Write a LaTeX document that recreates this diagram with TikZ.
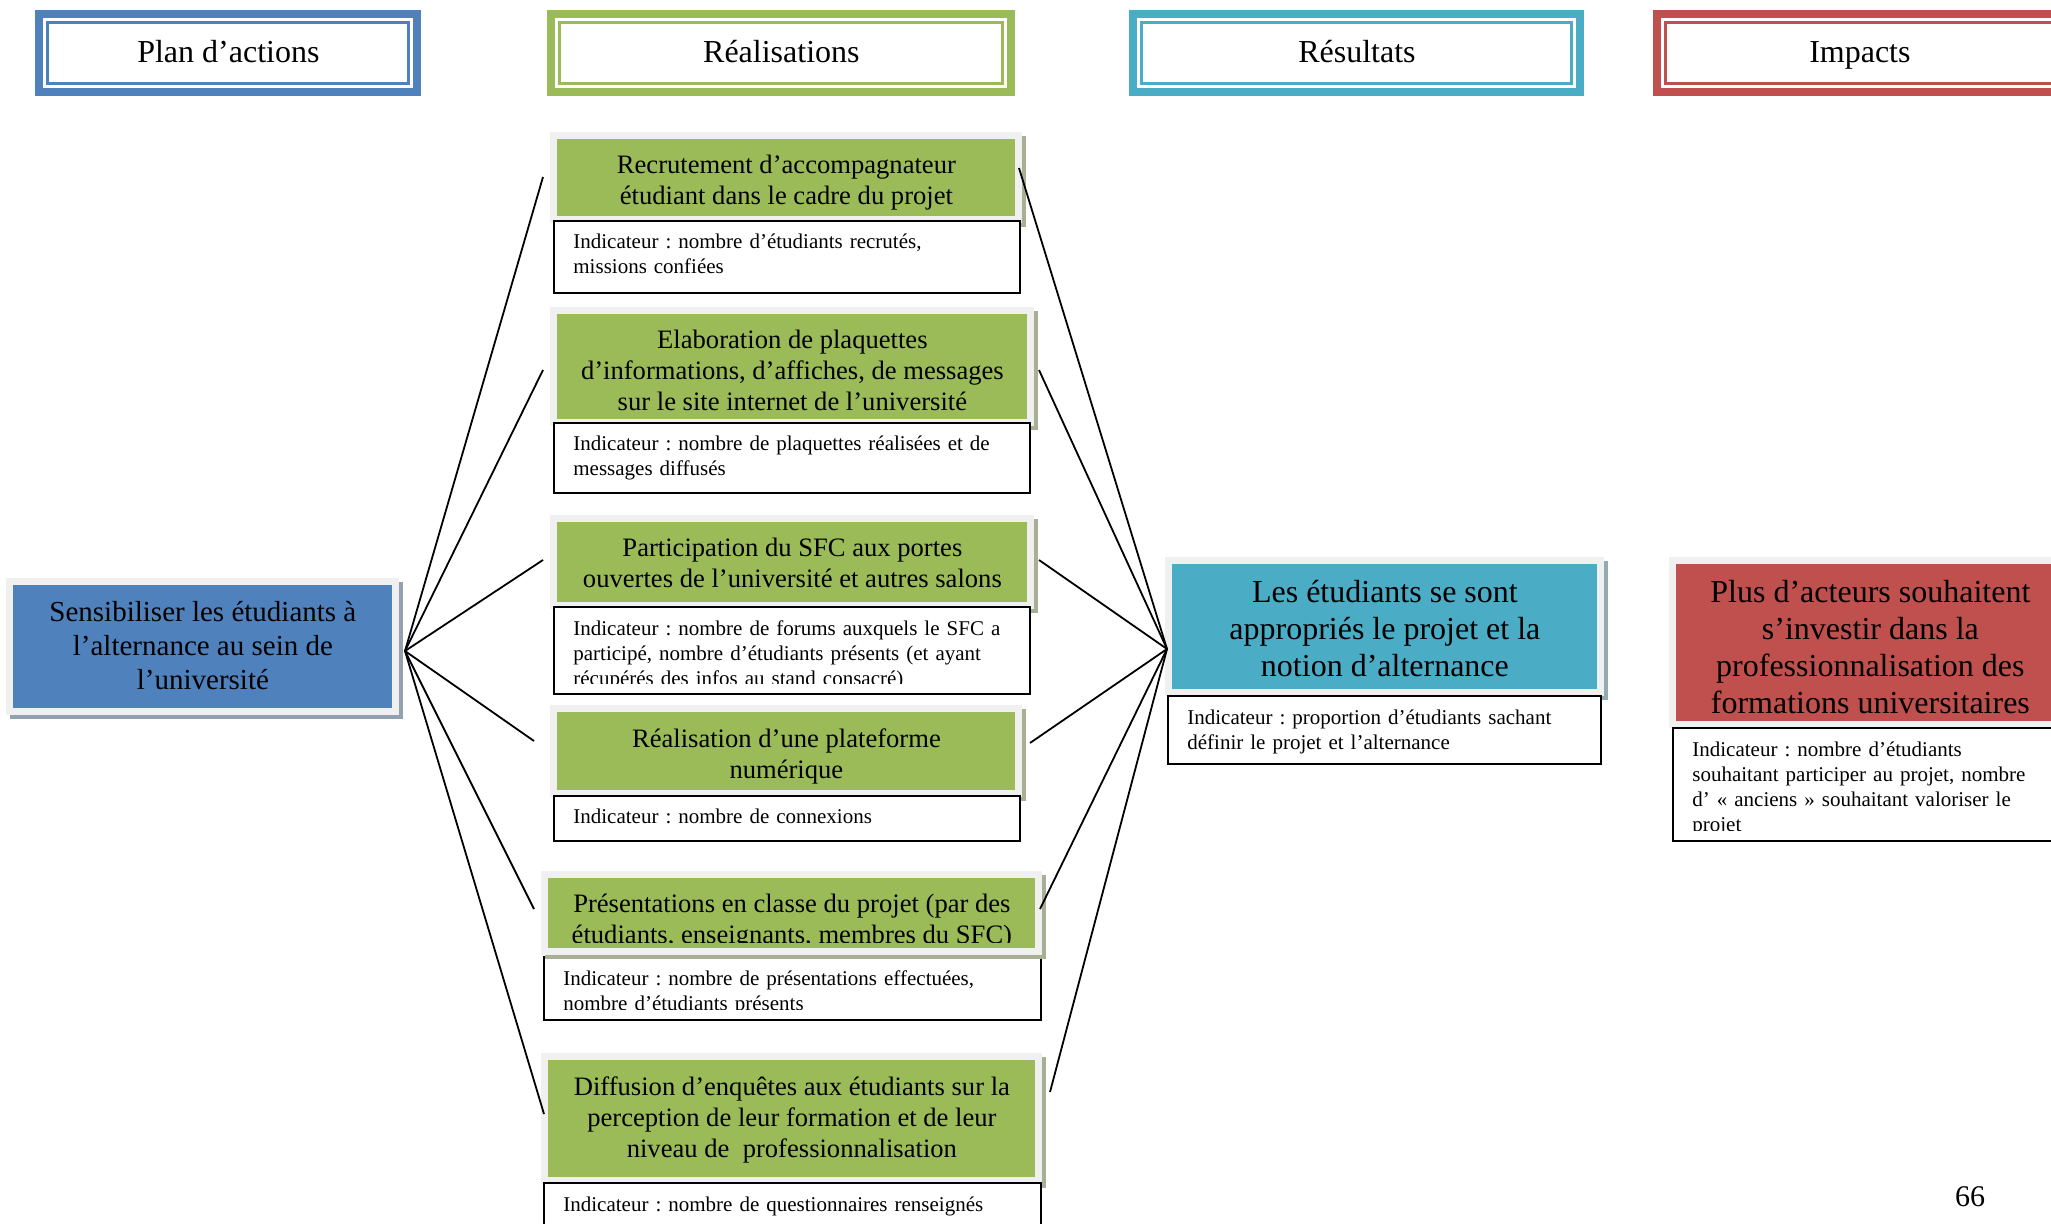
\documentclass[tikz,border=0pt]{standalone}
\usepackage{fontspec}
\setmainfont{Liberation Serif}
\usetikzlibrary{calc}
\definecolor{cblue}{HTML}{4F81BD}
\definecolor{cgreen}{HTML}{9BBB59}
\definecolor{cteal}{HTML}{4BACC6}
\definecolor{cred}{HTML}{C0504D}
\definecolor{framegray}{HTML}{F0F0F0}
\frenchspacing

\tikzset{
  hdr/.style={fill=#1, inner sep=0pt, text depth=0pt, text height=9.5pt, font=\fontsize{16}{19}\selectfont,
    path picture={
      \fill[white] ([shift={(4pt,-4pt)}]path picture bounding box.north west) rectangle ([shift={(-4pt,4pt)}]path picture bounding box.south east);
      \draw[#1, line width=1.5pt] ([shift={(6.25pt,-6.25pt)}]path picture bounding box.north west) rectangle ([shift={(-6.25pt,6.25pt)}]path picture bounding box.south east);
    }},
  shbox/.style={fill=#1, inner sep=0pt,
    preaction={draw=#1!35!gray!75!white, line width=7pt, transform canvas={shift={(2pt,-2pt)}}},
    preaction={draw=framegray, line width=7pt}},
  gtext/.style={font=\fontsize{13.3}{15.5}\selectfont},
  btext/.style={font=\fontsize{14.5}{17}\selectfont},
  ltext/.style={font=\fontsize{16}{18.5}\selectfont},
  indframe/.style={draw=black, line width=0.9pt, fill=white, inner sep=0pt},
  indtext/.style={font=\fontsize{10.5}{12.5}\selectfont, align=left, inner sep=0pt},
  link/.style={draw=black, line width=0.9pt},
}

% header box: name, x1, y1, x2, y2, colour, text
\newcommand\hdrbox[7]{%
  \pgfmathsetlengthmacro\bw{(#4-#2)*0.5pt}%
  \pgfmathsetlengthmacro\bh{(#5-#3)*0.5pt}%
  \node[hdr=#6, minimum width=\bw, minimum height=\bh, anchor=north west] (#1) at (#2,#3) {#7};}

% coloured box: name, x1, y1, x2, y2, box style, text style, text
\newcommand\colbox[8]{%
  \pgfmathsetlengthmacro\bw{(#4-#2)*0.5pt}%
  \pgfmathsetlengthmacro\bh{(#5-#3)*0.5pt}%
  \node[#6, minimum width=\bw, minimum height=\bh, anchor=north west] (#1) at (#2,#3) {};
  \begin{scope}
    \clip ([yshift=-0.5pt]#1.north west) rectangle ([yshift=3pt]#1.south east);
    \node[#7, anchor=north, inner sep=0pt, align=center] (#1t) at ([yshift=-8pt]#1.north) {#8};
  \end{scope}}

% indicator box: name, x1, y1, x2, y2, text
\newcommand\indbox[6]{%
  \pgfmathsetlengthmacro\bw{(#4-#2)*0.5pt}%
  \pgfmathsetlengthmacro\bh{(#5-#3)*0.5pt}%
  \node[indframe, minimum width=\bw, minimum height=\bh, anchor=north west] (#1) at (#2,#3) {};
  \begin{scope}
    \clip ([shift={(1pt,-1pt)}]#1.north west) rectangle ([shift={(-1pt,5.5pt)}]#1.south east);
    \node[indtext, text width=\bw, anchor=north west] (#1t) at ([shift={(10pt,-7pt)}]#1.north west) {#6};
  \end{scope}}

\begin{document}
\begin{tikzpicture}[x=0.5pt, y=-0.5pt]
\clip (0,0) rectangle (2051,1224);
\fill[white] (0,0) rectangle (2051,1224);

% headers
\hdrbox{h1}{35}{10}{421}{96}{cblue}{Plan d’actions}
\hdrbox{h2}{547}{10}{1015}{96}{cgreen}{Réalisations}
\hdrbox{h3}{1129}{10}{1584}{96}{cteal}{Résultats}
\hdrbox{h4}{1653}{10}{2066}{96}{cred}{Impacts}

% plan
\colbox{plan}{13}{585}{392}{708}{shbox=cblue}{btext}{Sensibiliser les étudiants à\\ l’alternance au sein de\\ l’université}

% realisations
\colbox{g1}{557}{139}{1015}{216}{shbox=cgreen}{gtext}{Recrutement d’accompagnateur\\ étudiant dans le cadre du projet}
\indbox{i1}{553}{220}{1019}{292}{Indicateur : nombre d’étudiants recrutés,\\ missions confiées}

\colbox{g2}{557}{314}{1027}{419}{shbox=cgreen}{gtext}{Elaboration de plaquettes\\ d’informations, d’affiches, de messages\\ sur le site internet de l’université}
\indbox{i2}{553}{422}{1029}{492}{Indicateur : nombre de plaquettes réalisées et de\\ messages diffusés}

\colbox{g3}{557}{522}{1027}{602}{shbox=cgreen}{gtext}{Participation du SFC aux portes\\ ouvertes de l’université et autres salons}
\indbox{i3}{553}{606}{1029}{693}{Indicateur : nombre de forums auxquels le SFC a\\ participé, nombre d’étudiants présents (et ayant\\ récupérés des infos au stand consacré)}

\colbox{g4}{557}{712}{1015}{790}{shbox=cgreen}{gtext}{Réalisation d’une plateforme\\ numérique}
\indbox{i4}{553}{795}{1019}{840}{Indicateur : nombre de connexions}

\indbox{i5}{543}{956}{1040}{1019}{Indicateur : nombre de présentations effectuées,\\ nombre d’étudiants présents}
\colbox{g5}{548}{878}{1035}{948}{shbox=cgreen}{gtext}{Présentations en classe du projet (par des\\ étudiants, enseignants, membres du SFC)}

\colbox{g6}{548}{1060}{1035}{1177}{shbox=cgreen}{gtext}{Diffusion d’enquêtes aux étudiants sur la\\ perception de leur formation et de leur\\ niveau de~ professionnalisation}
\indbox{i6}{543}{1182}{1040}{1240}{Indicateur : nombre de questionnaires renseignés}

% resultats
\colbox{res}{1172}{564}{1597}{689}{shbox=cteal}{ltext}{Les étudiants se sont\\ appropriés le projet et la\\ notion d’alternance}
\indbox{ires}{1167}{695}{1600}{763}{Indicateur : proportion d’étudiants sachant\\ définir le projet et l’alternance}

% impacts
\colbox{imp}{1676}{564}{2064}{721}{shbox=cred}{ltext}{Plus d’acteurs souhaitent\\ s’investir dans la\\ professionnalisation des\\ formations universitaires}
\indbox{iimp}{1672}{727}{2070}{840}{Indicateur : nombre d’étudiants\\ souhaitant participer au projet, nombre\\ d’ « anciens » souhaitant valoriser le\\ projet}

% connectors
\coordinate (hubL) at (405,651);
\coordinate (hubR) at (1167,649);
\coordinate (l1) at (543,177);
\coordinate (l2) at (543,370);
\coordinate (l3) at (543,560);
\coordinate (l4) at (534,741);
\coordinate (l5) at (534,909);
\coordinate (l6) at (544,1114);
\coordinate (r1) at (1019,168);
\coordinate (r2) at (1039,370);
\coordinate (r3) at (1039,560);
\coordinate (r4) at (1030,743);
\coordinate (r5) at (1040,909);
\coordinate (r6) at (1050,1092);
\foreach \i in {1,...,6} {\draw[link] (hubL) -- (l\i);}
\foreach \i in {1,...,6} {\draw[link] (r\i) -- (hubR);}

% page number
\node[font=\fontsize{15}{18}\selectfont, inner sep=0pt] (pnum) at (1970,1197) {66};
\end{tikzpicture}
\end{document}
